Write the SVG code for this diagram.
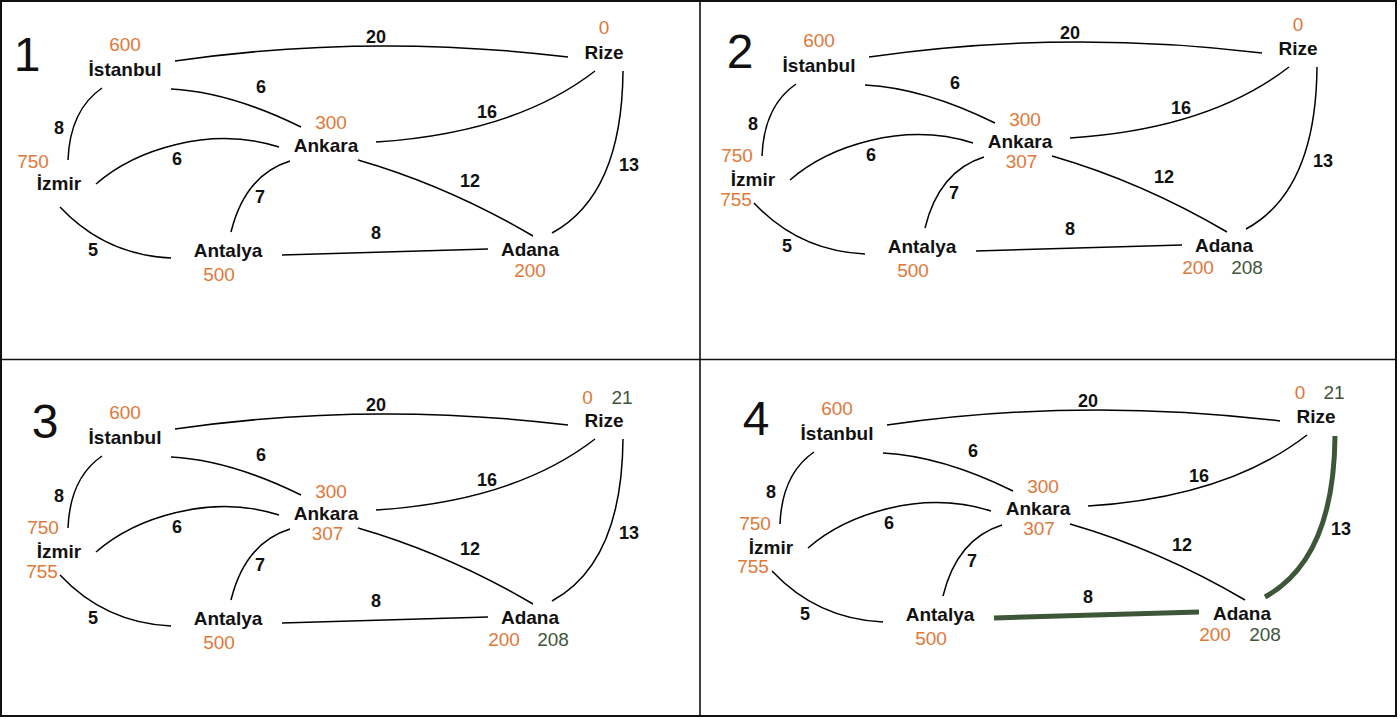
<svg xmlns="http://www.w3.org/2000/svg" width="1400" height="719" viewBox="0 0 1400 719">
<style>
.frame{fill:none;stroke:#111;stroke-width:2}
.div{stroke:#111;stroke-width:1.6}
.e{fill:none;stroke:#000;stroke-width:1.5}
.hl{fill:none;stroke:#3c5637;stroke-width:5}
.n{font-family:"Liberation Sans",Arial,sans-serif;font-weight:bold;font-size:19px;fill:#111;text-anchor:middle}
.w{font-family:"Liberation Sans",Arial,sans-serif;font-weight:bold;font-size:18px;fill:#111;text-anchor:middle}
.o{font-family:"Liberation Sans",Arial,sans-serif;font-size:19px;fill:#e0783a;text-anchor:middle}
.g{font-family:"Liberation Sans",Arial,sans-serif;font-size:19px;fill:#3e563a;text-anchor:middle}
.big{font-family:"Liberation Sans",Arial,sans-serif;font-size:48px;fill:#111;text-anchor:middle}
</style>
<rect x="0" y="0" width="1400" height="719" fill="#fff"/>
<rect class="frame" x="1" y="1" width="1395" height="715"/>
<line class="div" x1="700" y1="0" x2="700" y2="717"/>
<line class="div" x1="0" y1="359.5" x2="1397" y2="359.5"/>

<!-- Panel 1 -->
<g id="panel1">
<text class="big" x="27" y="71">1</text>
<g id="p1-connectors">
<path class="e" d="M175,61 Q370,33 568,57"/>
<path class="e" d="M171,89 Q230,92 301,127"/>
<path class="e" d="M102,88 Q70,110 68,160"/>
<path class="e" d="M96,184 C135,150 210,125 279,147"/>
<path class="e" d="M290,161 Q245,175 231,232"/>
<path class="e" d="M60,207 Q105,255 171,258"/>
<path class="e" d="M282,255 L488,249"/>
<path class="e" d="M358,160 Q448,186 533,236"/>
<path class="e" d="M376,142 Q515,133 595,71"/>
<path class="e" d="M623,71 Q622,195 552,233"/>
<text class="w" x="376" y="43">20</text>
<text class="w" x="261" y="93">6</text>
<text class="w" x="59" y="134">8</text>
<text class="w" x="177" y="165">6</text>
<text class="w" x="260" y="203">7</text>
<text class="w" x="93" y="256">5</text>
<text class="w" x="376" y="239">8</text>
<text class="w" x="470" y="187">12</text>
<text class="w" x="487" y="118">16</text>
<text class="w" x="629" y="171">13</text>
</g>
<g id="p1-istanbul"><text class="o" x="125" y="51">600</text><text class="n" x="125" y="76">İstanbul</text></g>
<g id="p1-izmir"><text class="o" x="33" y="168">750</text><text class="n" x="59" y="190">İzmir</text></g>
<g id="p1-ankara"><text class="o" x="331" y="129">300</text><text class="n" x="326" y="152">Ankara</text></g>
<g id="p1-antalya"><text class="n" x="228" y="257">Antalya</text><text class="o" x="219" y="281">500</text></g>
<g id="p1-adana"><text class="n" x="530" y="256">Adana</text><text class="o" x="530" y="277">200</text></g>
<g id="p1-rize"><text class="o" x="604" y="34">0</text><text class="n" x="604" y="59">Rize</text></g>
</g>

<!-- Panel 2 -->
<g id="panel2" transform="translate(694,-4)">
<text class="big" x="46" y="72">2</text>
<g id="p2-connectors">
<path class="e" d="M175,61 Q370,33 568,57"/>
<path class="e" d="M171,89 Q230,92 301,127"/>
<path class="e" d="M102,88 Q70,110 68,160"/>
<path class="e" d="M96,184 C135,150 210,125 279,147"/>
<path class="e" d="M290,161 Q245,175 231,232"/>
<path class="e" d="M60,207 Q105,255 171,258"/>
<path class="e" d="M282,255 L488,249"/>
<path class="e" d="M358,160 Q448,186 533,236"/>
<path class="e" d="M376,142 Q515,133 595,71"/>
<path class="e" d="M623,71 Q622,195 552,233"/>
<text class="w" x="376" y="43">20</text>
<text class="w" x="261" y="93">6</text>
<text class="w" x="59" y="134">8</text>
<text class="w" x="177" y="165">6</text>
<text class="w" x="260" y="203">7</text>
<text class="w" x="93" y="256">5</text>
<text class="w" x="376" y="239">8</text>
<text class="w" x="470" y="187">12</text>
<text class="w" x="487" y="118">16</text>
<text class="w" x="629" y="171">13</text>
</g>
<g id="p2-istanbul"><text class="o" x="125" y="51">600</text><text class="n" x="125" y="76">İstanbul</text></g>
<g id="p2-izmir"><text class="o" x="43" y="166">750</text><text class="n" x="59" y="190">İzmir</text><text class="o" x="42" y="210">755</text></g>
<g id="p2-ankara"><text class="o" x="331" y="130">300</text><text class="n" x="326" y="152">Ankara</text><text class="o" x="327.5" y="172">307</text></g>
<g id="p2-antalya"><text class="n" x="228" y="257">Antalya</text><text class="o" x="219" y="281">500</text></g>
<g id="p2-adana"><text class="n" x="530" y="256">Adana</text><text class="o" x="504" y="278">200</text><text class="g" x="553" y="278">208</text></g>
<g id="p2-rize"><text class="o" x="604" y="35">0</text><text class="n" x="604" y="59">Rize</text></g>
</g>

<!-- Panel 3 -->
<g id="panel3" transform="translate(0,368)">
<text class="big" x="45" y="70">3</text>
<g id="p3-connectors">
<path class="e" d="M175,61 Q370,33 568,57"/>
<path class="e" d="M171,89 Q230,92 301,127"/>
<path class="e" d="M102,88 Q70,110 68,160"/>
<path class="e" d="M96,184 C135,150 210,125 279,147"/>
<path class="e" d="M290,161 Q245,175 231,232"/>
<path class="e" d="M60,207 Q105,255 171,258"/>
<path class="e" d="M282,255 L488,249"/>
<path class="e" d="M358,160 Q448,186 533,236"/>
<path class="e" d="M376,142 Q515,133 595,71"/>
<path class="e" d="M623,71 Q622,195 552,233"/>
<text class="w" x="376" y="43">20</text>
<text class="w" x="261" y="93">6</text>
<text class="w" x="59" y="134">8</text>
<text class="w" x="177" y="165">6</text>
<text class="w" x="260" y="203">7</text>
<text class="w" x="93" y="256">5</text>
<text class="w" x="376" y="239">8</text>
<text class="w" x="470" y="187">12</text>
<text class="w" x="487" y="118">16</text>
<text class="w" x="629" y="171">13</text>
</g>
<g id="p3-istanbul"><text class="o" x="125" y="51">600</text><text class="n" x="125" y="76">İstanbul</text></g>
<g id="p3-izmir"><text class="o" x="43" y="166">750</text><text class="n" x="59" y="190">İzmir</text><text class="o" x="42" y="210">755</text></g>
<g id="p3-ankara"><text class="o" x="331" y="130">300</text><text class="n" x="326" y="152">Ankara</text><text class="o" x="327.5" y="172">307</text></g>
<g id="p3-antalya"><text class="n" x="228" y="257">Antalya</text><text class="o" x="219" y="281">500</text></g>
<g id="p3-adana"><text class="n" x="530" y="256">Adana</text><text class="o" x="504" y="278">200</text><text class="g" x="553" y="278">208</text></g>
<g id="p3-rize"><text class="o" x="587.5" y="36">0</text><text class="g" x="622" y="36">21</text><text class="n" x="604" y="59">Rize</text></g>
</g>

<!-- Panel 4 -->
<g id="panel4" transform="translate(712,364)">
<text class="big" x="44" y="71">4</text>
<g id="p4-connectors">
<path class="e" d="M175,61 Q370,33 568,57"/>
<path class="e" d="M171,89 Q230,92 301,127"/>
<path class="e" d="M102,88 Q70,110 68,160"/>
<path class="e" d="M96,184 C135,150 210,125 279,147"/>
<path class="e" d="M290,161 Q245,175 231,232"/>
<path class="e" d="M60,207 Q105,255 171,258"/>
<path class="hl" d="M282,254 L487,248"/>
<path class="e" d="M358,160 Q448,186 533,236"/>
<path class="e" d="M376,142 Q515,133 595,71"/>
<path class="hl" d="M623,72 Q622,195 553,233"/>
<text class="w" x="376" y="43">20</text>
<text class="w" x="261" y="93">6</text>
<text class="w" x="59" y="134">8</text>
<text class="w" x="177" y="165">6</text>
<text class="w" x="260" y="203">7</text>
<text class="w" x="93" y="256">5</text>
<text class="w" x="376" y="239">8</text>
<text class="w" x="470" y="187">12</text>
<text class="w" x="487" y="118">16</text>
<text class="w" x="629" y="171">13</text>
</g>
<g id="p4-istanbul"><text class="o" x="125" y="51">600</text><text class="n" x="125" y="76">İstanbul</text></g>
<g id="p4-izmir"><text class="o" x="43" y="166">750</text><text class="n" x="59" y="190">İzmir</text><text class="o" x="41" y="209">755</text></g>
<g id="p4-ankara"><text class="o" x="331" y="129">300</text><text class="n" x="326" y="151">Ankara</text><text class="o" x="327" y="171">307</text></g>
<g id="p4-antalya"><text class="n" x="228" y="257">Antalya</text><text class="o" x="219" y="281">500</text></g>
<g id="p4-adana"><text class="n" x="530" y="256">Adana</text><text class="o" x="503" y="277">200</text><text class="g" x="553" y="277">208</text></g>
<g id="p4-rize"><text class="o" x="588" y="35">0</text><text class="g" x="622" y="35">21</text><text class="n" x="604" y="59">Rize</text></g>
</g>
</svg>
